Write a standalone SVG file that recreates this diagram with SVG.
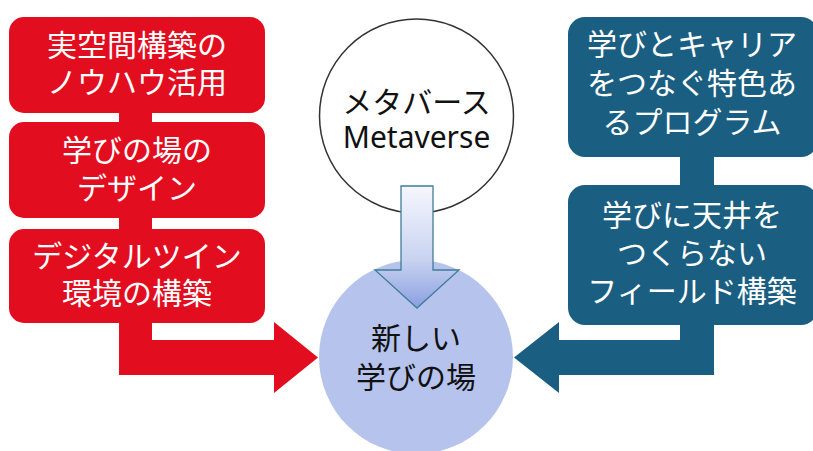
<svg xmlns="http://www.w3.org/2000/svg" width="813" height="451" viewBox="0 0 813 451">
<defs>
<linearGradient id="g" x1="0" y1="0" x2="0" y2="1">
<stop offset="0" stop-color="#f6f7fd"/>
<stop offset="0.6" stop-color="#c9d3f1"/>
<stop offset="1" stop-color="#8a9fe0"/>
</linearGradient>
<style>
.red{fill:#e30d20}
.blue{fill:#1a5e81}
.t{font-family:"Noto Sans CJK JP","Noto Sans",sans-serif;font-size:30px;text-anchor:middle;dominant-baseline:central}
.w{fill:#ffffff}
.k{fill:#111111}
</style>
</defs>
<g id="connectors">
<rect class="red" x="119" y="110" width="33" height="15"/>
<rect class="red" x="119" y="215" width="33" height="17"/>
<path class="red" d="M119,320 L152,320 L152,340 L274,340 L274,322 L318,357.5 L274,393 L274,375 L119,375 Z"/>
<rect class="blue" x="680" y="154" width="34" height="34"/>
<path class="blue" d="M680,322 L714,322 L714,375 L559,375 L559,393 L514,357.5 L559,322 L559,340 L680,340 Z"/>
</g>
<g id="n-red1"><rect class="red" x="9" y="17" width="256" height="96" rx="15"/>
<text class="t w" x="137" y="43">実空間構築の</text><text class="t w" x="137" y="80">ノウハウ活用</text></g>
<g id="n-red2"><rect class="red" x="9" y="122" width="256" height="96" rx="15"/>
<text class="t w" x="137" y="148">学びの場の</text><text class="t w" x="137" y="186">デザイン</text></g>
<g id="n-red3"><rect class="red" x="9" y="229" width="256" height="94" rx="15"/>
<text class="t w" x="137" y="254">デジタルツイン</text><text class="t w" x="137" y="291">環境の構築</text></g>
<g id="n-blue1"><rect class="blue" x="568" y="17" width="250" height="140" rx="17"/>
<text class="t w" x="692" y="42">学びとキャリア</text><text class="t w" x="692" y="81">をつなぐ特色あ</text><text class="t w" x="692" y="120">るプログラム</text></g>
<g id="n-blue2"><rect class="blue" x="568" y="185" width="250" height="140" rx="17"/>
<text class="t w" x="692" y="213">学びに天井を</text><text class="t w" x="692" y="251">つくらない</text><text class="t w" x="692" y="289">フィールド構築</text></g>
<g id="n-meta"><circle cx="416.5" cy="116" r="97" fill="#ffffff" stroke="#333333" stroke-width="1.5"/>
<text class="t k" x="416.5" y="100">メタバース</text><text class="t k" x="416.5" y="136" style="font-family:'Noto Sans','Open Sans',sans-serif;font-size:30px">Metaverse</text></g>
<g id="n-new"><circle cx="416" cy="357" r="97" fill="#b5c3ed"/>
<text class="t k" x="416" y="336">新しい</text><text class="t k" x="416" y="375">学びの場</text></g>
<g id="arrow-down"><path d="M401,186 L433,186 L433,270 L459,270 L417,308 L375,270 L401,270 Z" fill="url(#g)" stroke="#3f7d98" stroke-width="1.3"/></g>
</svg>
